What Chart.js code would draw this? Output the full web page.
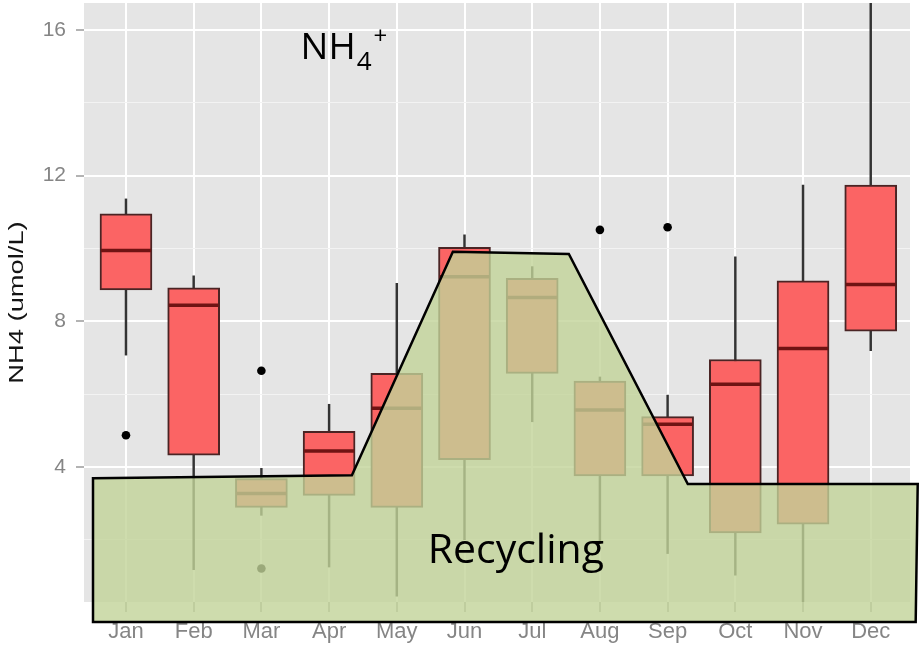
<!DOCTYPE html>
<html>
<head>
<meta charset="utf-8">
<script src="https://cdn.jsdelivr.net/npm/chart.js@4.4.1/dist/chart.umd.min.js"></script>
<style>
  html, body { margin: 0; padding: 0; background: #ffffff; }
  #wrap { width: 922px; height: 649px; }
</style>
</head>
<body>
<div id="wrap"><canvas id="chart" width="922" height="649"></canvas></div>
<script>
// Monthly NH4 box plot summaries (umol/L)
const months = ['Jan', 'Feb', 'Mar', 'Apr', 'May', 'Jun', 'Jul', 'Aug', 'Sep', 'Oct', 'Nov', 'Dec'];
const whiskerLow  = [7.07, 1.18, 2.67, 1.25, 0.45, 2.00, 5.24, 1.90, 1.62, 1.03, 0.29, 7.19];
const q1          = [8.86, 4.32, 2.89, 3.22, 2.89, 4.20, 6.57, 3.75, 3.75, 2.19, 2.43, 7.73];
const medians     = [9.94, 8.44, 3.27, 4.44, 5.61, 9.22, 8.65, 5.56, 5.17, 6.27, 7.25, 9.01];
const q3          = [10.95, 8.92, 3.68, 4.98, 6.57, 10.03, 9.18, 6.36, 5.38, 6.95, 9.11, 11.74];
const whiskerHigh = [11.36, 9.25, 3.96, 5.72, 9.04, 10.37, 9.50, 6.47, 5.97, 9.77, 11.74, 16.74];

// Outlying observations (month number, value)
const outlierMonth = [1, 3, 3, 8, 9];
const outlierValue = [4.87, 6.64, 1.21, 10.51, 10.58];

// Y axis ticks: labelled majors every 4, minor grid lines in between
const yTicks = [2, 4, 6, 8, 10, 12, 14, 16];

// "Recycling" region outline, in (month, umol/L) units
const recyclingX = [0.513, 4.337, 5.828, 7.541, 9.298, 12.694, 12.664, 0.513];
const recyclingY = [3.69, 3.77, 9.91, 9.85, 3.53, 3.53, -0.26, -0.26];

const yTitle = 'NH4 (umol/L)';
const monthIndex = months.map((m, i) => i + 1);

const panelBackground = {
  id: 'panelBackground',
  beforeDraw(chart) {
    const { ctx, chartArea: a } = chart;
    ctx.save();
    ctx.fillStyle = '#e5e5e5';
    ctx.fillRect(a.left, a.top, a.right - a.left, a.bottom - a.top);
    ctx.restore();
  }
};

const recyclingOverlay = {
  id: 'recyclingOverlay',
  afterDatasetsDraw(chart) {
    const { ctx, chartArea: a } = chart;
    const xs = chart.scales.x, ys = chart.scales.y;
    ctx.save();
    ctx.beginPath();
    recyclingX.forEach((xv, i) => {
      const px = xs.getPixelForValue(xv), py = ys.getPixelForValue(recyclingY[i]);
      if (i === 0) ctx.moveTo(px, py); else ctx.lineTo(px, py);
    });
    ctx.closePath();
    ctx.fillStyle = 'rgba(194, 211, 152, 0.8)';
    ctx.fill();
    ctx.lineWidth = 2.5;
    ctx.lineJoin = 'miter';
    ctx.strokeStyle = '#000000';
    ctx.stroke();

    // region label
    ctx.fillStyle = '#000000';
    ctx.textBaseline = 'alphabetic';
    ctx.textAlign = 'center';
    ctx.font = '41px "Open Sans"';
    ctx.fillText('Recycling', xs.getPixelForValue(6.758), ys.getPixelForValue(1.355));

    // species label NH4+
    ctx.textAlign = 'left';
    let x0 = xs.getPixelForValue(3.579);
    const base = ys.getPixelForValue(15.20);
    ctx.font = '37px "Open Sans"';
    ctx.fillText('NH', x0, base);
    x0 += ctx.measureText('NH').width + 1;
    ctx.font = '26px "Open Sans"';
    ctx.fillText('4', x0, base + 11);
    x0 += ctx.measureText('4').width + 2;
    ctx.font = '24px "Open Sans"';
    ctx.fillText('+', x0, base - 15);

    // y axis title, rotated and widened along its reading direction
    ctx.translate(23, (a.top + a.bottom) / 2);
    ctx.rotate(-Math.PI / 2);
    ctx.scale(1.3, 1);
    ctx.textAlign = 'center';
    ctx.font = '21px "Liberation Sans", Arial, sans-serif';
    ctx.fillStyle = '#141414';
    ctx.fillText(yTitle, 0, 0);
    ctx.restore();
  }
};

const noPadding = (scale) => {
  scale.paddingLeft = 0; scale.paddingRight = 0;
  scale.paddingTop = 0; scale.paddingBottom = 0;
};

new Chart(document.getElementById('chart'), {
  type: 'bar',
  data: {
    datasets: [
      {
        type: 'line',
        label: 'outliers',
        order: 1,
        showLine: false,
        data: outlierMonth.map((m, i) => ({ x: m, y: outlierValue[i] })),
        pointStyle: 'circle',
        pointRadius: 4.3,
        pointBackgroundColor: '#000000',
        pointBorderWidth: 0
      },
      {
        type: 'line',
        label: 'median',
        order: 2,
        showLine: false,
        data: monthIndex.map((x, i) => ({ x, y: medians[i] })),
        pointStyle: 'line',
        pointRadius: 25,
        pointBorderWidth: 3.5,
        pointBorderColor: '#701313'
      },
      {
        type: 'bar',
        label: 'box',
        order: 3,
        grouped: false,
        data: monthIndex.map((x, i) => ({ x, y: [q1[i], q3[i]] })),
        backgroundColor: '#fb6464',
        borderColor: '#4a2424',
        borderWidth: 2,
        borderSkipped: false,
        barThickness: 52
      },
      {
        type: 'bar',
        label: 'whisker',
        order: 4,
        grouped: false,
        data: monthIndex.map((x, i) => ({ x, y: [whiskerLow[i], whiskerHigh[i]] })),
        backgroundColor: '#333333',
        borderWidth: 0,
        barThickness: 1.8
      }
    ]
  },
  options: {
    responsive: false,
    animation: false,
    events: [],
    devicePixelRatio: 1,
    layout: { autoPadding: false, padding: { top: 3, right: 12, left: 0, bottom: 0 } },
    plugins: { legend: { display: false }, tooltip: { enabled: false } },
    scales: {
      x: {
        type: 'linear',
        offset: false,
        min: 0.38,
        max: 12.58,
        afterBuildTicks: (axis) => { axis.ticks = monthIndex.map(v => ({ value: v })); },
        afterFit: (scale) => { scale.height = 47; noPadding(scale); },
        border: { display: false },
        grid: { offset: false, color: '#ffffff', lineWidth: 2, tickColor: '#9a9a9a', tickLength: 10, tickWidth: 1.5 },
        ticks: {
          autoSkip: false,
          maxRotation: 0,
          padding: 7,
          color: '#858585',
          font: { family: '"Liberation Sans", Arial, sans-serif', size: 22 },
          callback: (v, i) => months[i]
        }
      },
      y: {
        type: 'linear',
        min: 0.29,
        max: 16.74,
        afterBuildTicks: (axis) => { axis.ticks = yTicks.map(v => ({ value: v })); },
        afterFit: (scale) => { scale.width = 84; noPadding(scale); },
        border: { display: false },
        grid: {
          color: (c) => (c.tick && c.tick.value % 4 === 0) ? '#ffffff' : '#f3f3f3',
          lineWidth: (c) => (c.tick && c.tick.value % 4 === 0) ? 2 : 1,
          tickColor: (c) => (c.tick && c.tick.value % 4 === 0) ? '#9a9a9a' : 'rgba(0,0,0,0)',
          tickLength: 8,
          tickWidth: 1.5
        },
        ticks: {
          padding: 10,
          color: '#858585',
          font: { family: '"Liberation Sans", Arial, sans-serif', size: 21 },
          callback: (v) => (v % 4 === 0 ? String(v) : '')
        },
        title: { display: false }
      }
    }
  },
  plugins: [panelBackground, recyclingOverlay]
});
</script>
</body>
</html>
